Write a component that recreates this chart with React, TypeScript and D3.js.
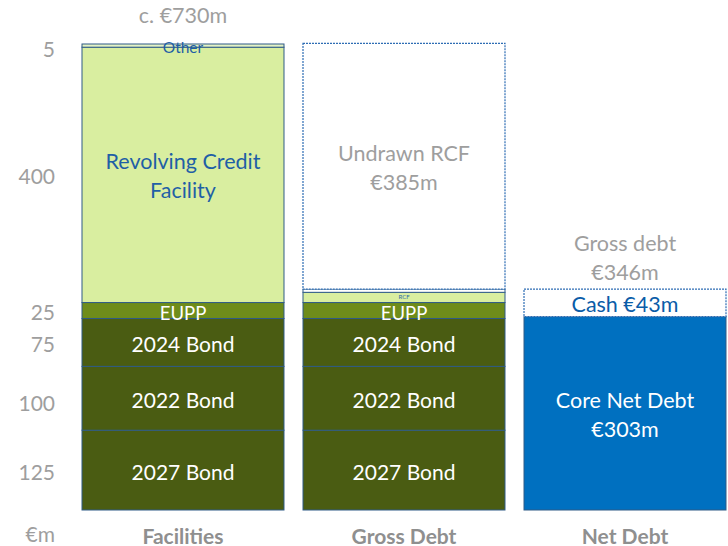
import React from "react";
import * as d3 from "d3";

const categories = ["Facilities", "Gross Debt", "Net Debt"];

// Facilities stack (bottom to top)
const facilityNames = ["2027 Bond", "2022 Bond", "2024 Bond", "EUPP", "Revolving Credit Facility", "Other"];
const facilityValues = [125, 100, 75, 25, 400, 5];

// Gross debt stack (bottom to top)
const grossNames = ["2027 Bond", "2022 Bond", "2024 Bond", "EUPP", "RCF", "Other ", "Undrawn RCF €385m"];
const grossValues = [125, 100, 75, 25, 16, 5, 385];

// Net debt stack (bottom to top)
const netNames = ["Core Net Debt €303m", "Cash €43m"];
const netValues = [303, 43];

const axisLabels = ["125", "100", "75", "25", "400", "5"];
const totalLabel = "c. €730m";
const grossLabel = ["Gross debt", "€346m"];
const unitLabel = "€m";

const W = 728;
const H = 546;
const FONT = "Lato, 'Open Sans', sans-serif";
const GRAY = "#9e9e9e";
const BLUE_TEXT = "#1f5fa6";
const LINE = "#2f5b86";

const styleFor = (name: string) => {
  if (name.includes("Bond")) return { fill: "#4a5c12", text: "#ffffff", size: 21, dotted: false, label: true, dy: 1 };
  if (name === "EUPP") return { fill: "#6e8c1a", text: "#ffffff", size: 18.5, dotted: false, label: true, dy: 2 };
  if (name.startsWith("Revolving")) return { fill: "#d9eea0", text: BLUE_TEXT, size: 21.5, dotted: false, label: true, dy: 1 };
  if (name === "RCF") return { fill: "#d9eea0", text: "#2f6aa8", size: 6, dotted: false, label: true, dy: -1 };
  if (name === "Other") return { fill: "#e4f2c4", text: BLUE_TEXT, size: 15.5, dotted: false, label: true, dy: 1 };
  if (name === "Other ") return { fill: "#ffffff", text: BLUE_TEXT, size: 7, dotted: false, label: false, dy: 0 };
  if (name.startsWith("Undrawn")) return { fill: "#ffffff", text: GRAY, size: 21.5, dotted: true, label: true, dy: 1 };
  if (name.startsWith("Core")) return { fill: "#0070c0", text: "#ffffff", size: 21.5, dotted: false, label: true, dy: 1 };
  if (name.startsWith("Cash")) return { fill: "#ffffff", text: "#0a5ca8", size: 21.5, dotted: true, label: true, dy: 1 };
  return { fill: "#ccc", text: "#000", size: 16, dotted: false, label: true, dy: 0 };
};

const splitLabel = (name: string): string[] => {
  if (name === "Revolving Credit Facility") return ["Revolving Credit", "Facility"];
  if (name === "Undrawn RCF €385m") return ["Undrawn RCF", "€385m"];
  if (name === "Core Net Debt €303m") return ["Core Net Debt", "€303m"];
  return [name];
};

export default function App() {
  const x = d3.scaleBand<string>().domain(categories).range([82, 726]).paddingInner(0.086).paddingOuter(0);
  const y = d3.scaleLinear().domain([0, 730]).range([510, 44]);

  const stacks: { cat: string; names: string[]; values: number[] }[] = [
    { cat: categories[0], names: facilityNames, values: facilityValues },
    { cat: categories[1], names: grossNames, values: grossValues },
    { cat: categories[2], names: netNames, values: netValues },
  ];

  const bw = x.bandwidth();

  const segs = stacks.flatMap((s) => {
    const cum = d3.cumsum(s.values);
    return s.names.map((n, i) => ({
      cat: s.cat,
      name: n,
      y0: i === 0 ? 0 : cum[i - 1],
      y1: cum[i],
    }));
  });

  const facCum = d3.cumsum(facilityValues);
  const grossTotal = d3.sum(netValues);
  const facTotal = d3.sum(facilityValues);

  return (
    <svg width={W} height={H} style={{ position: "absolute", left: 0, top: 0 }} fontFamily={FONT}>
      <rect width={W} height={H} fill="#fff" />
      {segs.map((s, i) => {
        const st = styleFor(s.name);
        const x0 = x(s.cat)!;
        const top = y(s.y1);
        const h = y(s.y0) - y(s.y1);
        const lines = splitLabel(s.name);
        const mid = (y(s.y0) + y(s.y1)) / 2;
        const lh = 29;
        return (
          <g key={i}>
            <rect
              x={x0}
              y={top}
              width={bw}
              height={h}
              fill={st.fill}
              stroke={st.dotted ? "#2e6db4" : LINE}
              strokeWidth={st.dotted ? 1.2 : 1}
              strokeDasharray={st.dotted ? "2,1" : undefined}
            />
            {st.label &&
              lines.map((t, j) => (
                <text
                  key={j}
                  x={x0 + bw / 2}
                  y={mid + (j - (lines.length - 1) / 2) * lh + st.dy}
                  textAnchor="middle"
                  dominantBaseline="central"
                  fontSize={st.size}
                  fill={st.text}
                >
                  {t}
                </text>
              ))}
          </g>
        );
      })}
      {/* left value labels */}
      {axisLabels.map((t, i) => (
        <text
          key={i}
          x={55}
          y={(y(i === 0 ? 0 : facCum[i - 1]) + y(facCum[i])) / 2 + (i === 5 ? 3 : i === 1 ? 4 : 1)}
          textAnchor="end"
          dominantBaseline="central"
          fontSize={21}
          fill={GRAY}
        >
          {t}
        </text>
      ))}
      <text x={55} y={533} textAnchor="end" dominantBaseline="central" fontSize={21} fill={GRAY}>
        {unitLabel}
      </text>
      {/* totals */}
      <text x={x(categories[0])! + bw / 2} y={y(facTotal) - 29} textAnchor="middle" dominantBaseline="central" fontSize={21.5} fill={GRAY}>
        {totalLabel}
      </text>
      {grossLabel.map((t, j) => (
        <text
          key={j}
          x={x(categories[2])! + bw / 2}
          y={y(grossTotal) - 46 + j * 29}
          textAnchor="middle"
          dominantBaseline="central"
          fontSize={21.5}
          fill={GRAY}
        >
          {t}
        </text>
      ))}
      {/* category labels */}
      {categories.map((c) => (
        <text
          key={c}
          x={x(c)! + bw / 2}
          y={535}
          textAnchor="middle"
          dominantBaseline="central"
          fontSize={21}
          fontWeight="bold"
          fill="#8f8f8f"
        >
          {c}
        </text>
      ))}
    </svg>
  );
}
